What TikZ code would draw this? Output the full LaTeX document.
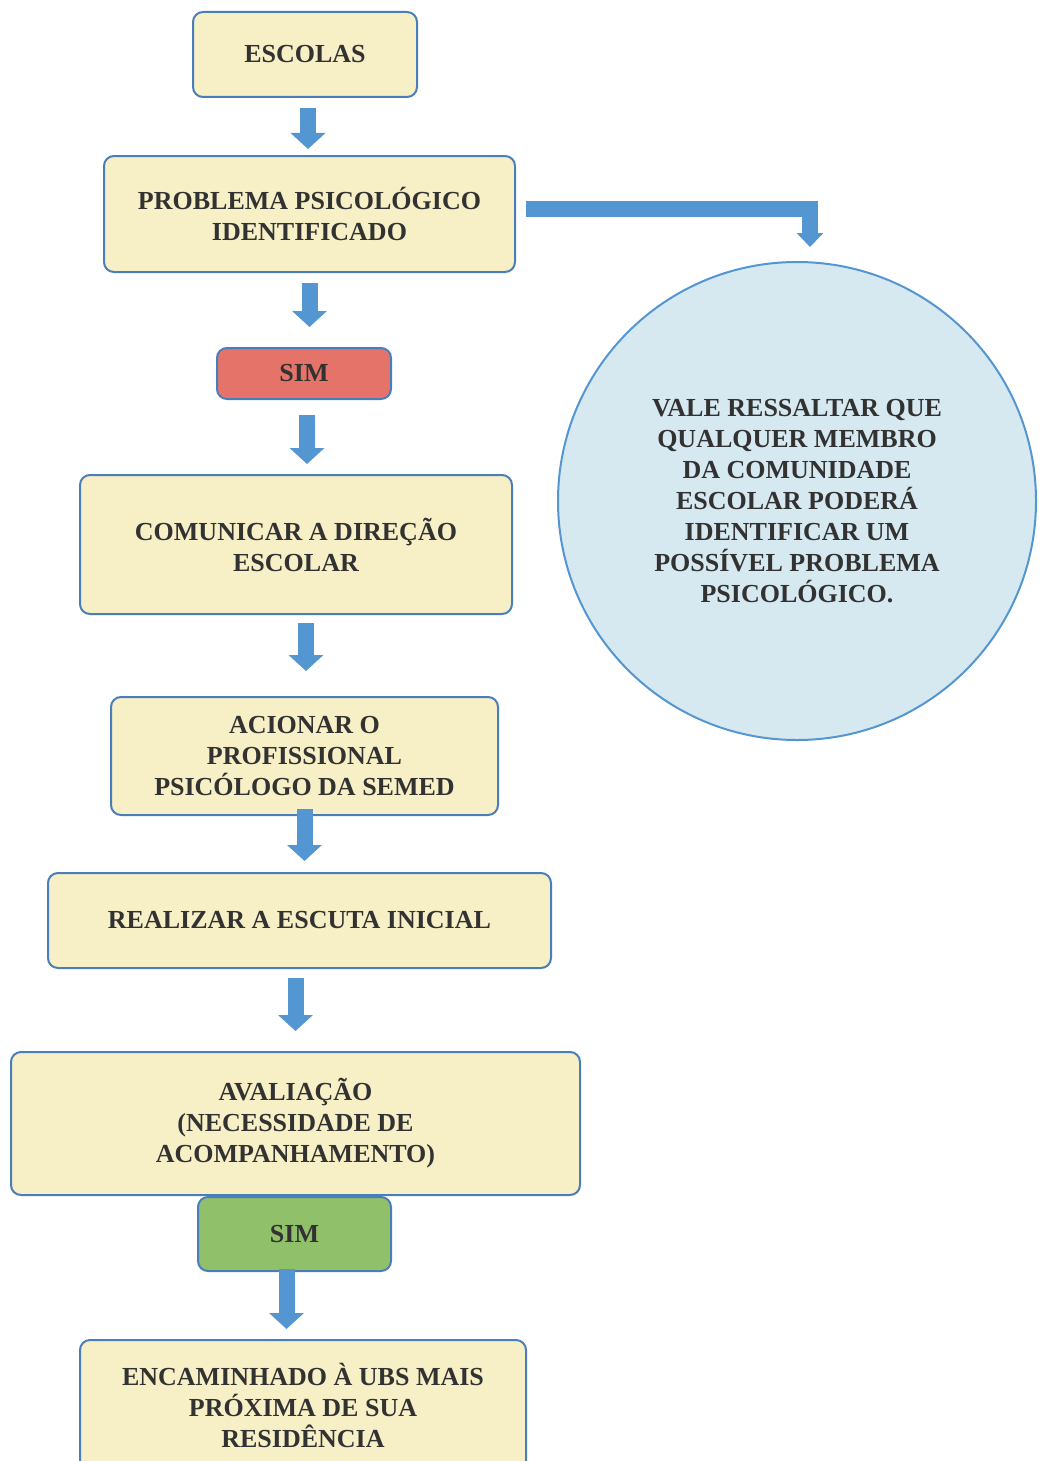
\documentclass[tikz,border=0pt]{standalone}
\usepackage{fontspec}
\setmainfont{Liberation Serif}
\usetikzlibrary{arrows.meta}
\definecolor{boxcol}{RGB}{247,239,198}
\definecolor{edgecol}{RGB}{74,126,187}
\definecolor{arrcol}{RGB}{84,150,210}
\definecolor{simred}{RGB}{229,115,106}
\definecolor{simgreen}{RGB}{145,192,106}
\definecolor{circcol}{RGB}{214,232,240}
\definecolor{txtcol}{RGB}{50,50,50}
\tikzset{
  box/.style={draw=edgecol, line width=1pt, rounded corners=5pt, fill=boxcol, align=center, inner sep=0pt,
    text=txtcol, font=\fontsize{13pt}{15.5pt}\selectfont\bfseries},
  flow/.style={draw=arrcol, line width=8pt, -{Triangle[width=17pt,length=8pt]}}
}
\begin{document}
\begin{tikzpicture}[x=0.5pt,y=-0.5pt]
    \useasboundingbox (0,0) rectangle (1041,1461);
    \node[box, minimum width=112pt, minimum height=42.5pt] (esc) at (305,54.5) {ESCOLAS};
    \node[box, minimum width=205.5pt, minimum height=58pt] (prob) at (309.5,214) {PROBLEMA PSICOLÓGICO\\IDENTIFICADO};
    \node[box, fill=simred, minimum width=87pt, minimum height=25.5pt] (sim1) at (304,373.5) {SIM};
    \node[box, minimum width=216pt, minimum height=69.5pt] (com) at (296,544.5) {COMUNICAR A DIREÇÃO\\ESCOLAR};
    \node[box, minimum width=193.5pt, minimum height=59pt] (acio) at (304.5,756) {ACIONAR O\\PROFISSIONAL\\PSICÓLOGO DA SEMED};
    \node[box, minimum width=251.5pt, minimum height=47.5pt] (esc2) at (299.5,920.5) {REALIZAR A ESCUTA INICIAL};
    \node[box, minimum width=284.5pt, minimum height=71.5pt] (aval) at (295.5,1123.5) {AVALIAÇÃO\\(NECESSIDADE DE\\ACOMPANHAMENTO)};
    \node[box, fill=simgreen, minimum width=96.5pt, minimum height=37pt] (sim2) at (294.5,1234) {SIM};
    \node[box, minimum width=223pt, minimum height=65pt] (enc) at (303,1405) {ENCAMINHADO À UBS MAIS\\PRÓXIMA DE SUA\\RESIDÊNCIA};
    \node[box, circle, rounded corners=0pt, fill=circcol, draw=arrcol, minimum size=239pt] (circ) at (797,501) {VALE RESSALTAR QUE\\QUALQUER MEMBRO\\DA COMUNIDADE\\ESCOLAR PODERÁ\\IDENTIFICAR UM\\POSSÍVEL PROBLEMA\\PSICOLÓGICO.};
    \draw[flow, shorten <=5pt, shorten >=3pt] ([xshift=1.5pt]esc.south) -- ([xshift=1.5pt]esc.south |- prob.north);
    \draw[flow, shorten <=5pt, shorten >=10pt] (prob.south) -- (prob.south |- sim1.north);
    \draw[flow, shorten <=7.5pt, shorten >=5pt] ([xshift=1.5pt]sim1.south) -- ([xshift=1.5pt]sim1.south |- com.north);
    \draw[flow, shorten <=4pt, shorten >=12.5pt] ([xshift=5pt]com.south) -- ([xshift=5pt]com.south |- acio.north);
    \draw[flow, shorten <=-3.5pt, shorten >=5.5pt] (acio.south) -- (acio.south |- esc2.north);
    \draw[flow, shorten <=4.5pt, shorten >=10pt] ([xshift=-2pt]esc2.south) -- ([xshift=-2pt]esc2.south |- aval.north);
    \draw[flow, shorten <=-1.5pt, shorten >=5pt] ([xshift=-4pt]sim2.south) -- ([xshift=-4pt]sim2.south |- enc.north);
    \draw[flow, -{Triangle[width=13pt,length=7pt]}] ([xshift=5pt,yshift=2.5pt]prob.east) -| ([xshift=6.5pt,yshift=7pt]circ.north);
\end{tikzpicture}
\end{document}
